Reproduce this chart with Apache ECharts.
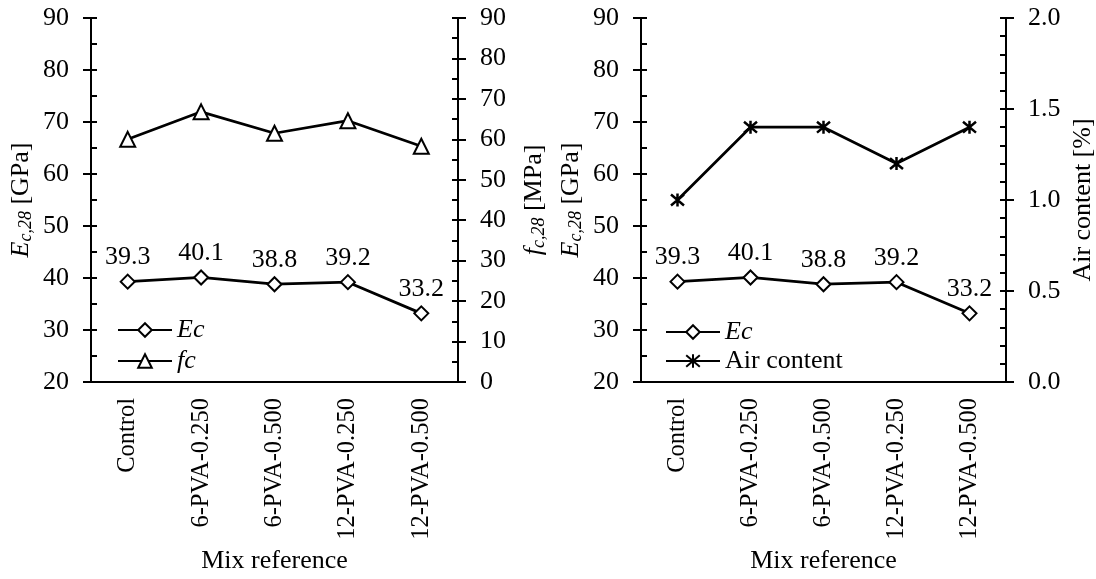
<!DOCTYPE html>
<html><head><meta charset="utf-8">
<script src="https://cdn.jsdelivr.net/npm/echarts@6/dist/echarts.min.js"></script>
<style>html,body{margin:0;padding:0;background:#fff}#c{width:1096px;height:579px}</style>
</head><body><div id="c"></div>
<script>
const categories = ['Control','6-PVA-0.250','6-PVA-0.500','12-PVA-0.250','12-PVA-0.500'];
const ecValues = [39.3, 40.1, 38.8, 39.2, 33.2];
const fcValues = [60.0, 66.8, 61.5, 64.6, 58.3];
const airValues = [1.0, 1.4, 1.4, 1.2, 1.4];
const ecTicks = {min: 20, max: 90, interval: 10};
const fcTicks = {min: 0, max: 90, interval: 10};
const airTicks = {min: 0, max: 2, interval: 0.5};

const FONT = 'Liberation Serif';
const C = '#000';
const FS = 26;
const txt = {fontFamily: FONT, fontSize: FS, color: C};
const starPath = 'path://M0,0L10,10M10,0L0,10M5,-1L5,11';

function xAxes(gi) {
  return [{
    type: 'category', gridIndex: gi, data: categories, position: 'bottom',
    axisLine: {lineStyle: {color: C, width: 2}},
    axisTick: {inside: true, alignWithLabel: true, length: 6, lineStyle: {color: C, width: 2}},
    axisLabel: Object.assign({rotate: 90, margin: 16, interval: 0}, txt, {fontSize: 24.5}),
    name: 'Mix reference', nameLocation: 'middle', nameGap: 144,
    nameTextStyle: txt
  }, {
    type: 'category', gridIndex: gi, data: categories, position: 'top',
    axisLine: {lineStyle: {color: C, width: 2}},
    axisTick: {inside: true, alignWithLabel: true, length: 6, lineStyle: {color: C, width: 2}},
    axisLabel: {show: false}
  }];
}
function yPair(gi, pos, t, name, gap, minorSplit, fmt) {
  const main = Object.assign({
    type: 'value', gridIndex: gi, position: pos,
    axisLine: {show: true, lineStyle: {color: C, width: 2}},
    axisTick: {show: true, inside: false, length: 8, lineStyle: {color: C, width: 2}},
    axisLabel: Object.assign({margin: 22, formatter: fmt}, txt),
    splitLine: {show: false},
    name: name, nameLocation: 'middle', nameGap: gap, nameRotate: 90,
    nameTextStyle: {
      fontFamily: FONT, fontSize: FS, color: C,
      rich: {
        e: {fontFamily: FONT, fontSize: FS, fontStyle: 'italic', color: C},
        s: {fontFamily: FONT, fontSize: 18, fontStyle: 'italic', color: C, padding: [10, 0, 0, 0]},
        n: {fontFamily: FONT, fontSize: FS, color: C}
      }
    }
  }, t);
  const over = Object.assign({
    type: 'value', gridIndex: gi, position: pos,
    axisLine: {show: false},
    axisTick: {show: true, inside: true, length: 6, lineStyle: {color: C, width: 2}},
    minorTick: {show: true, splitNumber: minorSplit, length: 6, lineStyle: {color: C, width: 2}},
    axisLabel: {show: false}, splitLine: {show: false}
  }, t);
  return [main, over];
}

const labelStyle = Object.assign({show: true, position: 'top', distance: 3}, txt);
const lineS = {color: C, width: 2.75};

const option = {
  animation: false,
  backgroundColor: '#fff',
  grid: [
    {left: 91, right: 638, top: 18, bottom: 197, outerBoundsMode: 'none', containLabel: false},
    {left: 641, right: 90, top: 18, bottom: 197, outerBoundsMode: 'none', containLabel: false}
  ],
  xAxis: [...xAxes(0), ...xAxes(1)],
  yAxis: [
    ...yPair(0, 'left', ecTicks, '{e|E}{s|c,28}{n| [GPa]}', 56, 2, v => v),
    ...yPair(0, 'right', fcTicks, '{e|f}{s|c,28}{n| [MPa]}', 62, 2, v => v),
    ...yPair(1, 'left', ecTicks, '{e|E}{s|c,28}{n| [GPa]}', 56, 2, v => v),
    ...yPair(1, 'right', airTicks, 'Air content [%]', 64, 5, v => v.toFixed(1))
  ],
  legend: [
    {
      data: ['Ec', 'fc'], orient: 'vertical', left: 112, top: 312,
      itemWidth: 54, itemHeight: 17, itemGap: 5,
      textStyle: Object.assign({fontStyle: 'italic'}, txt)
    },
    {
      data: ['Ec ', 'Air content'], orient: 'vertical', left: 660, top: 314,
      itemWidth: 54, itemHeight: 17, itemGap: 3,
      formatter: n => n === 'Ec ' ? '{i|Ec}' : n,
      textStyle: Object.assign({rich: {i: Object.assign({fontStyle: 'italic'}, txt)}}, txt)
    }
  ],
  series: [
    {
      name: 'Ec', type: 'line', xAxisIndex: 0, yAxisIndex: 0, data: ecValues,
      symbol: 'diamond', symbolSize: 14, lineStyle: lineS,
      itemStyle: {color: '#fff', borderColor: C, borderWidth: 2},
      label: labelStyle, z: 3
    },
    {
      name: 'fc', type: 'line', xAxisIndex: 0, yAxisIndex: 2, data: fcValues,
      symbol: 'triangle', symbolSize: 15, lineStyle: lineS,
      itemStyle: {color: '#fff', borderColor: C, borderWidth: 2}, z: 3
    },
    {
      name: 'Ec ', type: 'line', xAxisIndex: 2, yAxisIndex: 4, data: ecValues,
      symbol: 'diamond', symbolSize: 14, lineStyle: lineS,
      itemStyle: {color: '#fff', borderColor: C, borderWidth: 2},
      label: labelStyle, z: 3
    },
    {
      name: 'Air content', type: 'line', xAxisIndex: 2, yAxisIndex: 6, data: airValues,
      symbol: starPath, symbolSize: 13, lineStyle: lineS,
      itemStyle: {color: 'none', borderColor: C, borderWidth: 2.5}, z: 3
    }
  ]
};
const chart = echarts.init(document.getElementById('c'), null, {renderer: 'canvas'});
chart.setOption(option);
</script></body></html>
